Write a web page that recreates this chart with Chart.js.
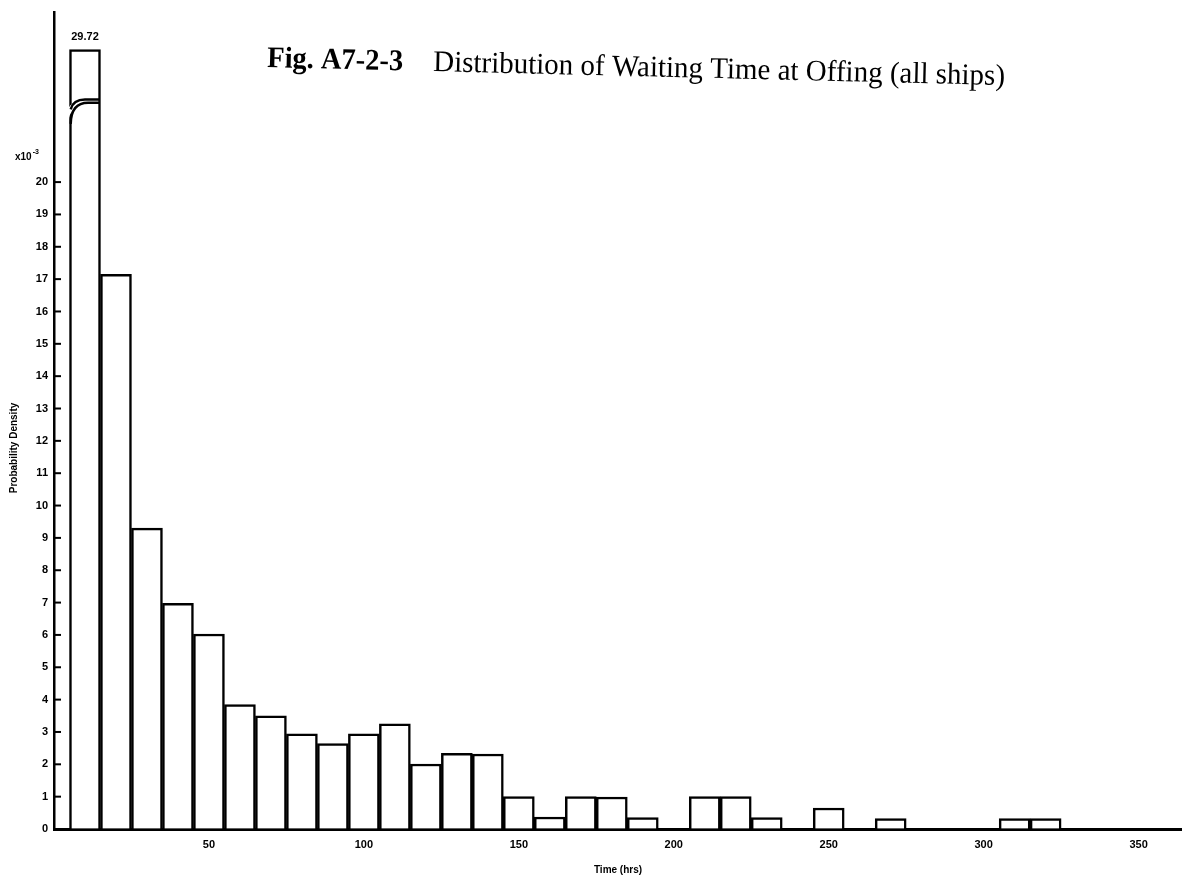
<!DOCTYPE html>
<html>
<head>
<meta charset="utf-8">
<script src="https://cdn.jsdelivr.net/npm/chart.js@4.4.1/dist/chart.umd.min.js"></script>
<style>
  html, body { margin: 0; padding: 0; background: #fff; }
</style>
</head>
<body>
<canvas id="graficoEspera" width="1182" height="880"></canvas>
<script>
// ====================================================
//  DADOS
// ====================================================
// centro de cada classe de 10 h
const binCenters = [10, 20, 30, 40, 50, 60, 70, 80, 90, 100, 110, 120, 130, 140, 150, 160,
  170, 180, 190, 200, 210, 220, 230, 240, 250, 260, 270, 280, 290, 300, 310, 320];
// densidade de probabilidade (x10^-3)
const density = [29.72, 17.15, 9.3, 6.98, 6.03, 3.85, 3.5, 2.94, 2.64, 2.94, 3.25, 2.01, 2.34, 2.32, 1.0, 0.37,
  1.0, 0.99, 0.35, 0, 1.0, 1.0, 0.35, 0, 0.65, 0, 0.32, 0, 0, 0, 0.32, 0.32];
const yTickValues = [0, 1, 2, 3, 4, 5, 6, 7, 8, 9, 10, 11, 12, 13, 14, 15, 16, 17, 18, 19, 20];
const xTickValues = [50, 100, 150, 200, 250, 300, 350];
const firstBarLabel = "29.72";
// o eixo está quebrado: a 1a barra é desenhada só até este valor
const brokenAxisTop = 24.1;

// ----------------------------------------------------
//  estilo
// ----------------------------------------------------
const preto = "#000";
const fonteEixo = { family: "Liberation Sans", weight: "bold", size: 11 };

const pontos = binCenters.map((c, i) => ({ x: c, y: Math.min(density[i], brokenAxisTop) }));

// desenhos extras: ticks internos, quebra da barra, textos
const decoracao = {
  id: "decoracao",
  afterDatasetsDraw(chart) {
    const ctx = chart.ctx;
    const ys = chart.scales.y;
    const bar = chart.getDatasetMeta(0).data[0];
    const w = bar.width, L = bar.x - w / 2, R = bar.x + w / 2;

    // quebra curva na primeira barra
    const upL = ys.getPixelForValue(22.25), upR = ys.getPixelForValue(22.55);
    const loL = ys.getPixelForValue(21.8), loR = ys.getPixelForValue(22.45);
    ctx.save();
    ctx.beginPath();
    ctx.moveTo(L - 2, upL);
    ctx.quadraticCurveTo(L + 0.12 * w, upR, L + 0.5 * w, upR);
    ctx.lineTo(R - 2.5, upR);
    ctx.lineTo(R - 2.5, loR);
    ctx.lineTo(L + 0.6 * w, loR);
    ctx.quadraticCurveTo(L + 0.05 * w, loR, L - 2, loL);
    ctx.closePath();
    ctx.fillStyle = "#fff";
    ctx.fill();
    ctx.strokeStyle = preto;
    ctx.lineWidth = 2.5;
    ctx.beginPath();
    ctx.moveTo(L + 1.2, upL);
    ctx.quadraticCurveTo(L + 0.12 * w, upR, L + 0.5 * w, upR);
    ctx.lineTo(R - 1.2, upR);
    ctx.stroke();
    ctx.beginPath();
    ctx.moveTo(L + 1.2, loL);
    ctx.quadraticCurveTo(L + 0.05 * w, loR, L + 0.6 * w, loR);
    ctx.lineTo(R - 1.2, loR);
    ctx.stroke();

    // rótulo do valor real da 1a barra
    ctx.fillStyle = preto;
    ctx.font = "bold 11px 'Liberation Sans'";
    ctx.textAlign = "center";
    ctx.textBaseline = "bottom";
    ctx.fillText(firstBarLabel, bar.x, bar.y - 7);
    ctx.restore();
  },
  afterDraw(chart) {
    const ctx = chart.ctx;
    const ys = chart.scales.y;
    const area = chart.chartArea;
    ctx.save();
    ctx.strokeStyle = preto;
    ctx.lineWidth = 2;

    // ticks para dentro do eixo y
    yTickValues.forEach((v) => {
      const py = ys.getPixelForValue(v);
      ctx.beginPath();
      ctx.moveTo(area.left, py);
      ctx.lineTo(area.left + 7, py);
      ctx.stroke();
    });

    // multiplicador x10^-3
    ctx.fillStyle = preto;
    ctx.textBaseline = "alphabetic";
    ctx.textAlign = "left";
    ctx.font = "bold 10px 'Liberation Sans'";
    ctx.fillText("x10", 15, 160);
    const wx = ctx.measureText("x10").width;
    ctx.font = "bold 7px 'Liberation Sans'";
    ctx.fillText("-3", 15 + wx + 1, 154);

    // título do eixo y
    ctx.save();
    ctx.translate(14, 448);
    ctx.rotate(-Math.PI / 2);
    ctx.textAlign = "center";
    ctx.textBaseline = "middle";
    ctx.font = "bold 10px 'Liberation Sans'";
    ctx.fillText("Probability Density", 0, 0);
    ctx.restore();

    // título da figura (levemente inclinado, como no original)
    ctx.save();
    ctx.translate(267, 67);
    ctx.rotate(1.4 * Math.PI / 180);
    ctx.textAlign = "left";
    ctx.textBaseline = "alphabetic";
    ctx.font = "bold 30px 'Liberation Serif'";
    const p1 = "Fig. A7-2-3";
    const s1 = 136 / ctx.measureText(p1).width;
    ctx.save();
    ctx.scale(s1, 1);
    ctx.fillText(p1, 0, 0);
    ctx.restore();
    ctx.font = "30px 'Liberation Serif'";
    const p2 = "Distribution of Waiting Time at Offing (all ships)";
    const s2 = 572 / ctx.measureText(p2).width;
    ctx.translate(166, 0);
    ctx.scale(s2, 1);
    ctx.fillText(p2, 0, 0);
    ctx.restore();

    ctx.restore();
  },
};

new Chart(document.getElementById("graficoEspera"), {
  type: "bar",
  data: {
    datasets: [
      {
        data: pontos,
        backgroundColor: "#fff",
        borderColor: preto,
        borderWidth: 2.5,
        borderSkipped: "bottom",
        barPercentage: 1,
        categoryPercentage: 1,
      },
    ],
  },
  options: {
    responsive: false,
    animation: false,
    layout: { padding: { top: 10, right: 0, bottom: 0, left: 0 } },
    plugins: {
      legend: { display: false },
      tooltip: { enabled: false },
      title: { display: false },
    },
    scales: {
      x: {
        type: "linear",
        min: 0,
        max: 364,
        offset: false,
        afterBuildTicks: (s) => { s.ticks = xTickValues.map((v) => ({ value: v })); },
        afterFit: (s) => { s.height = 51; },
        grid: { display: false },
        border: { display: true, color: preto, width: 3 },
        ticks: { font: fonteEixo, color: preto, padding: 1, maxRotation: 0, autoSkip: false },
        title: {
          display: true,
          text: "Time (hrs)",
          color: preto,
          font: { family: "Liberation Sans", weight: "bold", size: 10 },
          padding: { top: 0, bottom: 4 },
        },
      },
      y: {
        min: 0,
        max: 25.24,
        afterBuildTicks: (s) => { s.ticks = yTickValues.map((v) => ({ value: v })); },
        afterFit: (s) => { s.width = 54; },
        grid: { display: true, drawOnChartArea: false, drawTicks: false },
        border: { display: true, color: preto, width: 2.5 },
        ticks: { font: fonteEixo, color: preto, padding: 6, autoSkip: false },
      },
    },
  },
  plugins: [decoracao],
});
</script>
</body>
</html>
